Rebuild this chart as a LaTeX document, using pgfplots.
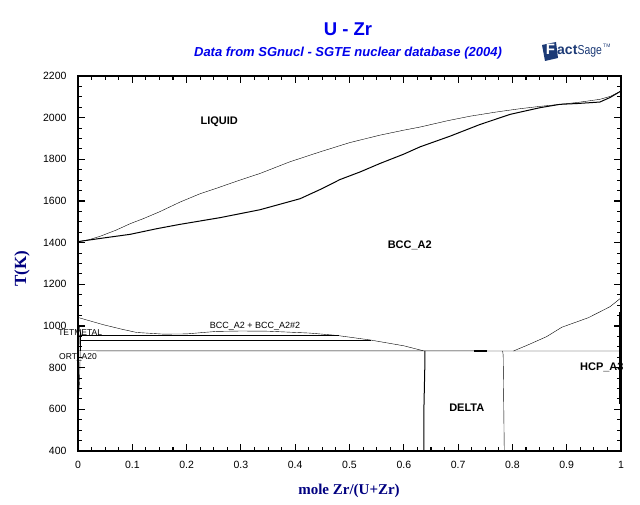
\documentclass[border=0pt]{standalone}
\usepackage{fontspec}
\setmainfont{Liberation Sans}
\newfontfamily\serifb{Liberation Serif}
\usepackage{pgfplots}
\pgfplotsset{compat=1.18}
\definecolor{ttl}{RGB}{0,0,235}
\definecolor{navy}{RGB}{0,0,128}
\definecolor{logo}{RGB}{28,58,118}
\begin{document}
\begin{tikzpicture}
\path[use as bounding box] (0pt,0pt) rectangle (640pt,504pt);
\begin{axis}[at={(78pt,53pt)}, anchor=south west, width=543pt, height=375pt, scale only axis,
  xmin=0, xmax=1, ymin=400, ymax=2200, clip=false,
  xtick={0,0.1,0.2,0.3,0.4,0.5,0.6,0.7,0.8,0.9,1},
  xticklabels={0,0.1,0.2,0.3,0.4,0.5,0.6,0.7,0.8,0.9,1},
  ytick={400,600,800,1000,1200,1400,1600,1800,2000,2200},
  yticklabels={400,600,800,1000,1200,1400,1600,1800,2000,2200},
  minor x tick num=3, minor y tick num=3,
  tick align=inside, major tick length=7pt, minor tick length=4pt,
  axis line style={black, line width=1.1pt},
  tick style={black, line width=1.1pt},
  ticklabel style={font=\fontsize{10.5}{12}\selectfont},
  /pgf/number format/assume math mode=true,
  yticklabel style={xshift=-8pt},
  xticklabel style={yshift=-7pt},
  cycle list={{black, line width=1pt, mark=none}},
]
% liquidus
\addplot coordinates {(0,1405) (0.02,1414) (0.04,1430) (0.07,1460) (0.096,1491) (0.12,1515) (0.15,1548) (0.188,1595) (0.225,1635) (0.2615,1667) (0.3,1702) (0.335,1732) (0.39,1788) (0.446,1836) (0.5,1880) (0.556,1916) (0.6,1940) (0.63,1955) (0.68,1985) (0.722,2007) (0.77,2027) (0.814,2043) (0.85,2054) (0.888,2064) (0.92,2073) (0.961,2088) (0.98,2102) (1.0,2128)};
% solidus
\addplot coordinates {(0,1405) (0.04,1420) (0.096,1440) (0.145,1467) (0.188,1488) (0.2615,1520) (0.335,1558) (0.409,1611) (0.45,1660) (0.4825,1703) (0.52,1740) (0.556,1780) (0.6,1825) (0.63,1860) (0.685,1911) (0.74,1967) (0.796,2016) (0.851,2048) (0.888,2064) (0.92,2068) (0.961,2075) (0.98,2097) (1.0,2128)};
% bcc miscibility gap / gamma boundary
\addplot coordinates {(0,1041) (0.047,1006) (0.08,985) (0.108,969) (0.157,961) (0.2,962) (0.231,969) (0.255,974) (0.3,976) (0.35,975) (0.427,966) (0.476,955) (0.538,933) (0.6,905) (0.636,881)};
% horizontal lines
\addplot coordinates {(0.004,957) (0.48,957)};
\addplot coordinates {(0.004,929) (0.54,929)};
\addplot coordinates {(0,881) (1,880)};
\addplot[black, line width=1.8pt] coordinates {(0.73,880.5) (0.753,880.5)};
% near x=0
\addplot coordinates {(0.004,969) (0.004,881)};
\addplot coordinates {(0.001,1010) (0.006,957)};
\addplot coordinates {(0.003,957) (0.004,881) (0.003,750) (0.001,640) (0,590)};
% delta boundaries
\addplot coordinates {(0.639,881) (0.639,840) (0.637,600) (0.637,400)};
\addplot coordinates {(0.782,880) (0.783,860) (0.785,400)};
% hcp boundary
\addplot coordinates {(0.802,880) (0.832,913) (0.863,949) (0.891,994) (0.94,1040) (0.98,1093) (1.0,1135)};
\addplot coordinates {(0.997,1066) (0.997,626)};
% labels
\node[font=\bfseries\fontsize{11}{12}\selectfont] at (axis cs:0.26,1979) {LIQUID};
\node[font=\bfseries\fontsize{11}{12}\selectfont] at (axis cs:0.611,1387) {BCC\_A2};
\node[font=\bfseries\fontsize{11}{12}\selectfont] at (axis cs:0.716,607) {DELTA};
\node[font=\bfseries\fontsize{11}{12}\selectfont, anchor=east, inner sep=0pt] at (axis cs:1.005,804) {HCP\_A3};
\node[font=\fontsize{9}{10}\selectfont] at (axis cs:0.326,1000) {BCC\_A2 + BCC\_A2\#2};
\node[font=\fontsize{8.5}{10}\selectfont, inner sep=0pt] at (axis cs:0.004,968) {TETMETAL};
\node[font=\fontsize{8.5}{10}\selectfont, inner sep=0pt] at (axis cs:0.0,849) {ORT\_A20};
\end{axis}
% titles
\node[font=\bfseries\fontsize{18.5}{20}\selectfont, text=ttl] at (348pt,475pt) {U - Zr};
\node[font=\bfseries\itshape\fontsize{13}{14}\selectfont, text=ttl] at (348pt,451pt) {Data from SGnucl - SGTE nuclear database (2004)};
\node[font=\serifb\bfseries\fontsize{15}{16}\selectfont, text=navy] at (349pt,13pt) {mole Zr/(U+Zr)};
\node[font=\serifb\bfseries\fontsize{17}{18}\selectfont, text=navy, rotate=90] at (22pt,235.5pt) {T(K)};
% logo
\fill[logo] (542pt,459pt) -- (556pt,462pt) -- (558pt,446pt) -- (545pt,443pt) -- cycle;
\node[font=\bfseries\fontsize{15}{16}\selectfont, text=white, inner sep=0pt, anchor=base] at (550.5pt,449pt) {F};
\node[font=\bfseries\fontsize{14}{15}\selectfont, text=logo, inner sep=0pt, anchor=base west] at (557pt,449pt) {act};
\node[font=\fontsize{13}{14}\selectfont, text=logo, inner sep=0pt, anchor=base west, xscale=0.8] at (577.5pt,449pt) {Sage};
\node[font=\fontsize{5}{6}\selectfont, text=logo, inner sep=0pt, anchor=base west] at (603pt,456pt) {TM};
\end{tikzpicture}
\end{document}
